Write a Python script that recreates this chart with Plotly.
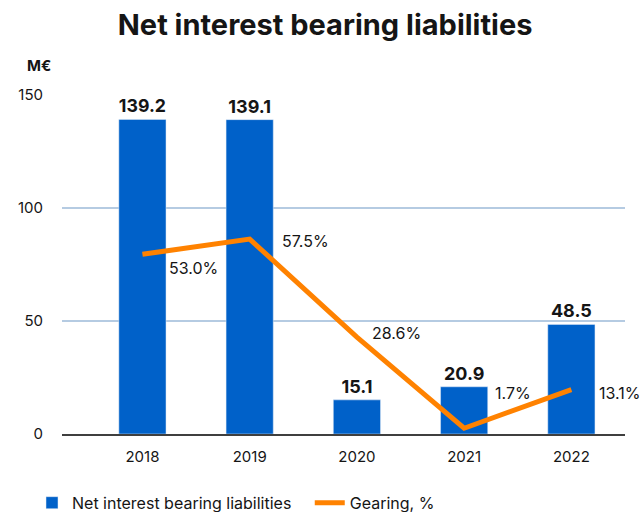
import plotly.graph_objects as go

years = ["2018", "2019", "2020", "2021", "2022"]
liabilities = [139.2, 139.1, 15.1, 20.9, 48.5]
gearing = [53.0, 57.5, 28.6, 1.7, 13.1]

BLUE = "#0061C9"
ORANGE = "#FF8200"
TXT = "#151515"
FONT = "Inter"

fig = go.Figure()
fig.add_trace(go.Bar(
    x=list(range(len(years))), y=liabilities, name="Net interest bearing liabilities",
    marker_color=BLUE, width=0.44, legend="legend",
    texttemplate="<b>%{y:.1f}</b>", textposition="outside",
    textfont=dict(size=18, color=TXT, family=FONT), cliponaxis=False,
))
fig.add_trace(go.Scatter(
    x=list(range(len(years))), y=gearing, name="Gearing, %", yaxis="y2",
    mode="lines", line=dict(color=ORANGE, width=5), cliponaxis=False,
    legend="legend2",
))

# label offsets (px) for gearing labels
offs = [(25, -14), (30, -2), (13, 4), (29, 35), (26, -3)]
for i, (g, (dx, dy)) in enumerate(zip(gearing, offs)):
    fig.add_annotation(x=i, y=g, xref="x", yref="y2", text=f"{g:.1f}%",
                       showarrow=False, xanchor="left", yanchor="middle",
                       xshift=dx, yshift=dy,
                       font=dict(size=16, color=TXT, family=FONT))

fig.add_annotation(x=-0.066, y=1.088, xref="paper", yref="paper", text="<b>M€</b>",
                   showarrow=False, xanchor="left", yanchor="middle",
                   font=dict(size=15, color=TXT, family=FONT))

leg_common = dict(orientation="h", xref="container", yref="container",
                  y=0.018, xanchor="left", yanchor="middle",
                  font=dict(size=16, color=TXT, family=FONT))

fig.update_layout(
    width=640, height=512,
    margin=dict(l=62, r=15, t=95, b=78),
    paper_bgcolor="white", plot_bgcolor="white",
    font=dict(family=FONT, color=TXT),
    title=dict(text="<b>Net interest bearing liabilities</b>", x=0.508, y=0.951,
               xanchor="center", yanchor="middle", xref="container", yref="container",
               font=dict(size=29, color=TXT, family=FONT, weight=900)),
    xaxis=dict(range=[-0.75, 4.5], tickmode="array", tickvals=list(range(len(years))),
               ticktext=years, showline=True, linecolor="#3f3f3f", linewidth=1.5,
               showgrid=False, ticks="", tickfont=dict(size=15, color=TXT),
               ticklabelstandoff=8),
    yaxis=dict(range=[0, 150], tickvals=[0, 50, 100, 150], showgrid=True,
               gridcolor="#B5CBE2", gridwidth=1.5, zeroline=False, showline=False,
               tickfont=dict(size=15, color=TXT), ticklabelstandoff=18),
    yaxis2=dict(range=[0, 100], overlaying="y", side="right", visible=False),
    showlegend=True,
    legend=dict(x=0.05, **leg_common),
    legend2=dict(x=0.484, **leg_common),
    bargap=0.5,
)

fig.write_html("out.html")
